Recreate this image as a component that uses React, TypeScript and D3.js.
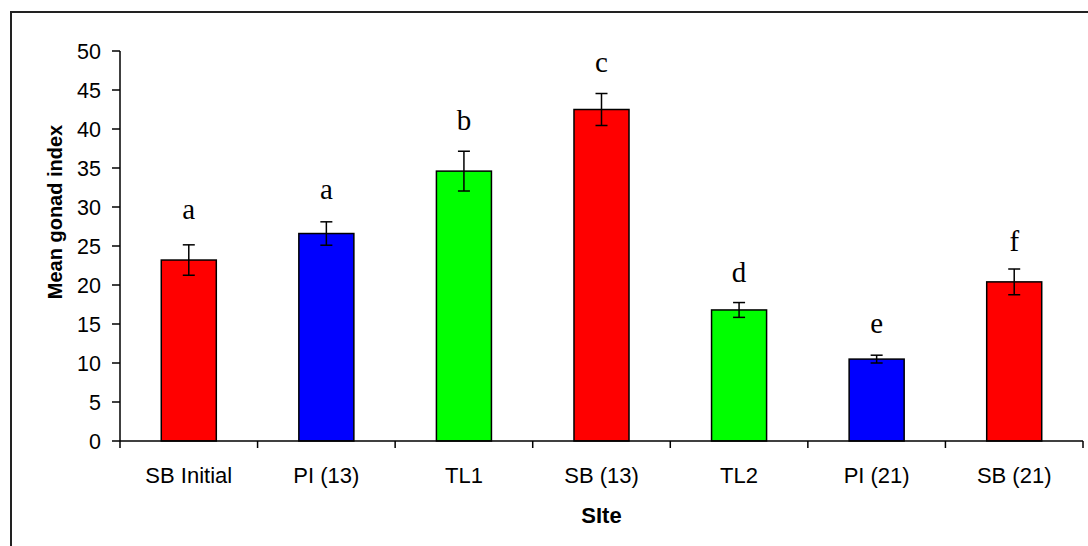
import React from "react";
import * as d3 from "d3";

const categories = ["SB Initial", "PI (13)", "TL1", "SB (13)", "TL2", "PI (21)", "SB (21)"];
const means = [23.2, 26.6, 34.6, 42.5, 16.8, 10.5, 20.4];
const errors = [1.95, 1.5, 2.55, 2.05, 0.95, 0.5, 1.65];
const colors = ["#ff0000", "#0000ff", "#00ff00", "#ff0000", "#00ff00", "#0000ff", "#ff0000"];
const letters = ["a", "a", "b", "c", "d", "e", "f"];
const letterLevels = [28.5, 31.0, 39.9, 47.3, 20.4, 13.8, 24.3];
const yTicks = [0, 5, 10, 15, 20, 25, 30, 35, 40, 45, 50];

export default function App() {
  const width = 1088;
  const height = 546;
  const left = 120;
  const right = 1083;
  const top = 51;
  const bottom = 441;
  const x = d3.scaleBand<string>().domain(categories).range([left, right]).paddingInner(0.6).paddingOuter(0.3);
  const xb = d3.scaleBand<string>().domain(categories).range([left, right]).padding(0);
  const y = d3.scaleLinear().domain([0, 50]).range([bottom, top]);
  const bounds = d3.range(categories.length + 1).map((i) => left + i * xb.step());
  const sans = "Arial, 'Liberation Sans', sans-serif";
  const serif = "'Times New Roman', 'Liberation Serif', serif";
  return (
    <svg width={width} height={height} style={{ position: "absolute", left: 0, top: 0, background: "#fff" }}>
      <rect x={0} y={0} width={width} height={height} fill="#fff" />
      <path d={`M11,${height + 5}V12H${width + 5}`} fill="none" stroke="#222" strokeWidth={2} />
      {categories.map((c, i) => {
        const bx = x(c)!;
        const bw = x.bandwidth();
        const cx = bx + bw / 2;
        return (
          <g key={c}>
            <rect x={bx} y={y(means[i])} width={bw} height={y(0) - y(means[i])} fill={colors[i]} stroke="#000" strokeWidth={1.5} />
            <line x1={cx} x2={cx} y1={y(means[i] + errors[i])} y2={y(means[i] - errors[i])} stroke="#000" strokeWidth={1.5} />
            <line x1={cx - 6} x2={cx + 6} y1={y(means[i] + errors[i])} y2={y(means[i] + errors[i])} stroke="#000" strokeWidth={1.5} />
            <line x1={cx - 6} x2={cx + 6} y1={y(means[i] - errors[i])} y2={y(means[i] - errors[i])} stroke="#000" strokeWidth={1.5} />
            <text x={cx} y={y(letterLevels[i])} textAnchor="middle" fontFamily={serif} fontSize={29} fill="#000">{letters[i]}</text>
            <text x={xb(c)! + xb.bandwidth() / 2} y={483} textAnchor="middle" fontFamily={sans} fontSize={22} fill="#000">{c}</text>
          </g>
        );
      })}
      <line x1={left} x2={left} y1={top} y2={bottom} stroke="#000" strokeWidth={1.5} />
      <line x1={left} x2={right} y1={bottom} y2={bottom} stroke="#000" strokeWidth={1.5} />
      {yTicks.map((t) => (
        <g key={t}>
          <line x1={left - 8} x2={left} y1={y(t)} y2={y(t)} stroke="#000" strokeWidth={1.5} />
          <text x={101} y={y(t)} dy="0.36em" textAnchor="end" fontFamily={sans} fontSize={21.5} fill="#000">{t}</text>
        </g>
      ))}
      {bounds.map((b, i) => (
        <line key={i} x1={b} x2={b} y1={bottom} y2={bottom + 7} stroke="#000" strokeWidth={1.5} />
      ))}
      <text transform={`translate(62,212) rotate(-90)`} textAnchor="middle" fontFamily={sans} fontWeight="bold" fontSize={20} fill="#000">Mean gonad index</text>
      <text x={(left + right) / 2} y={523} textAnchor="middle" fontFamily={sans} fontWeight="bold" fontSize={22} fill="#000">SIte</text>
    </svg>
  );
}
